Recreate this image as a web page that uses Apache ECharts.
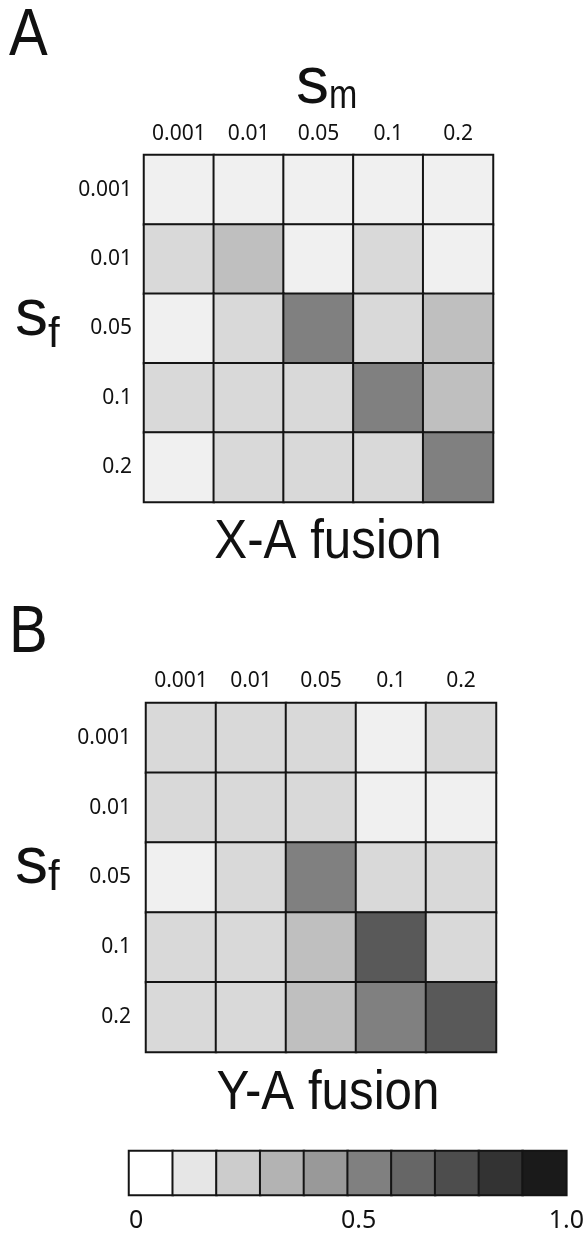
<!DOCTYPE html>
<html lang="en">

<head>
    <meta charset="UTF-8">
    <script type="text/javascript" src="https://cdn.jsdelivr.net/npm/echarts@6.0.0/dist/echarts.min.js"></script>
    <title>X-A / Y-A fusion heatmaps</title>
    <style>
        html, body { margin: 0; padding: 0; background: #fff; }
        #chart { width: 587px; height: 1237px; }
    </style>
</head>

<body>
    <div id="chart"></div>

    <script>
        // tick labels (s_m along the top, s_f down the side)
        const smLabels = ['0.001', '0.01', '0.05', '0.1', '0.2'];
        const sfLabels = ['0.001', '0.01', '0.05', '0.1', '0.2'];

        // cell values, one row per s_f (0 = white, 1 = black)
        const xaFusion = [
            [0.06, 0.06, 0.06, 0.06, 0.06],
            [0.15, 0.25, 0.06, 0.15, 0.06],
            [0.06, 0.15, 0.50, 0.15, 0.25],
            [0.15, 0.15, 0.15, 0.50, 0.25],
            [0.06, 0.15, 0.15, 0.15, 0.50]
        ];
        const yaFusion = [
            [0.15, 0.15, 0.15, 0.06, 0.15],
            [0.15, 0.15, 0.15, 0.06, 0.06],
            [0.06, 0.15, 0.50, 0.15, 0.15],
            [0.15, 0.15, 0.25, 0.65, 0.15],
            [0.15, 0.15, 0.25, 0.50, 0.65]
        ];

        // colour key
        const keyLevels = [0, 0.1, 0.2, 0.3, 0.4, 0.5, 0.6, 0.7, 0.8, 0.9];
        const keyTicks = ['0', '0.5', '1.0'];

        const ink = '#111';
        const tickFont = 'Noto Sans';
        const bigFont = 'Liberation Sans';

        // [x, y, value] triples for the heatmap
        function toCells(rows) {
            const out = [];
            rows.forEach((row, y) => row.forEach((v, x) => out.push([x, y, v])));
            return out;
        }

        function catAxis(data, extra) {
            return Object.assign({
                type: 'category',
                data: data,
                axisLine: { show: false },
                axisTick: { show: false },
                splitLine: { show: false },
                axisLabel: { color: ink, fontFamily: tickFont, fontSize: 21 }
            }, extra);
        }

        function heat(xi, yi, data) {
            return {
                type: 'heatmap',
                xAxisIndex: xi,
                yAxisIndex: yi,
                data: data,
                itemStyle: { borderColor: '#141414', borderWidth: 2 },
                emphasis: { disabled: true },
                silent: true
            };
        }

        function txt(text, x, y, size, opts) {
            opts = opts || {};
            return {
                type: 'text',
                x: x,
                y: y,
                scaleX: opts.scaleX || 1,
                silent: true,
                style: {
                    text: text,
                    fill: ink,
                    font: size + 'px "' + bigFont + '"',
                    textAlign: opts.align || 'left',
                    textVerticalAlign: 'middle'
                }
            };
        }

        const keyRich = { fontFamily: tickFont, fontSize: 25, color: ink };

        const chart = echarts.init(document.getElementById('chart'));
        chart.setOption({
            animation: false,
            grid: [
                { left: 144, top: 155, width: 349, height: 347 },
                { left: 146, top: 703, width: 350, height: 349 },
                { left: 129, top: 1151, width: 441, height: 44 }
            ],
            xAxis: [
                catAxis(smLabels, { gridIndex: 0, position: 'top', axisLabel: { color: ink, fontFamily: tickFont, fontSize: 21, margin: 10 } }),
                catAxis(smLabels, { gridIndex: 1, position: 'top', axisLabel: { color: ink, fontFamily: tickFont, fontSize: 21, margin: 11 } }),
                catAxis(keyLevels, { gridIndex: 2, axisLabel: { show: false } }),
                // value axis only used for the 0 / 0.5 / 1.0 labels under the key
                {
                    type: 'value', gridIndex: 2, position: 'bottom',
                    min: 0, max: 1, interval: 0.5,
                    axisLine: { show: false }, axisTick: { show: false }, splitLine: { show: false },
                    axisLabel: {
                        color: ink, fontFamily: tickFont, fontSize: 25, margin: 13,
                        alignMinLabel: 'left',
                        // middle label sits a little right of the key centre
                        formatter: (v) => {
                            const t = keyTicks[Math.round(v * 2)];
                            return (v === 0.5 ? '{mid|' : '{k|') + t + '}';
                        },
                        rich: {
                            k: keyRich,
                            mid: Object.assign({ padding: [0, 0, 0, 22] }, keyRich)
                        }
                    }
                }
            ],
            yAxis: [
                catAxis(sfLabels, { gridIndex: 0, inverse: true, axisLabel: { color: ink, fontFamily: tickFont, fontSize: 21, margin: 12 } }),
                catAxis(sfLabels, { gridIndex: 1, inverse: true, axisLabel: { color: ink, fontFamily: tickFont, fontSize: 21, margin: 15 } }),
                catAxis(['key'], { gridIndex: 2, axisLabel: { show: false } })
            ],
            visualMap: {
                type: 'continuous',
                show: false,
                min: 0,
                max: 1,
                seriesIndex: [0, 1, 2],
                inRange: { color: ['#ffffff', '#000000'] }
            },
            series: [
                heat(0, 0, toCells(xaFusion)),
                heat(1, 1, toCells(yaFusion)),
                heat(2, 2, keyLevels.map((v, i) => [i, 0, v]))
            ],
            graphic: [
                // panel letters
                txt('A', 9, 37, 66, { scaleX: 0.88 }),
                txt('B', 9, 634, 66, { scaleX: 0.88 }),
                // axis symbols
                txt('s', 296, 85, 66),
                txt('m', 329, 97, 40, { scaleX: 0.85 }),
                txt('s', 15, 317, 66),
                txt('f', 48, 335, 42),
                txt('s', 15, 865, 66),
                txt('f', 48, 878, 42),
                // panel captions
                txt('X-A fusion', 328, 543, 56, { align: 'center', scaleX: 0.88 }),
                txt('Y-A fusion', 328, 1094, 56, { align: 'center', scaleX: 0.88 })
            ]
        });
    </script>
</body>

</html>
